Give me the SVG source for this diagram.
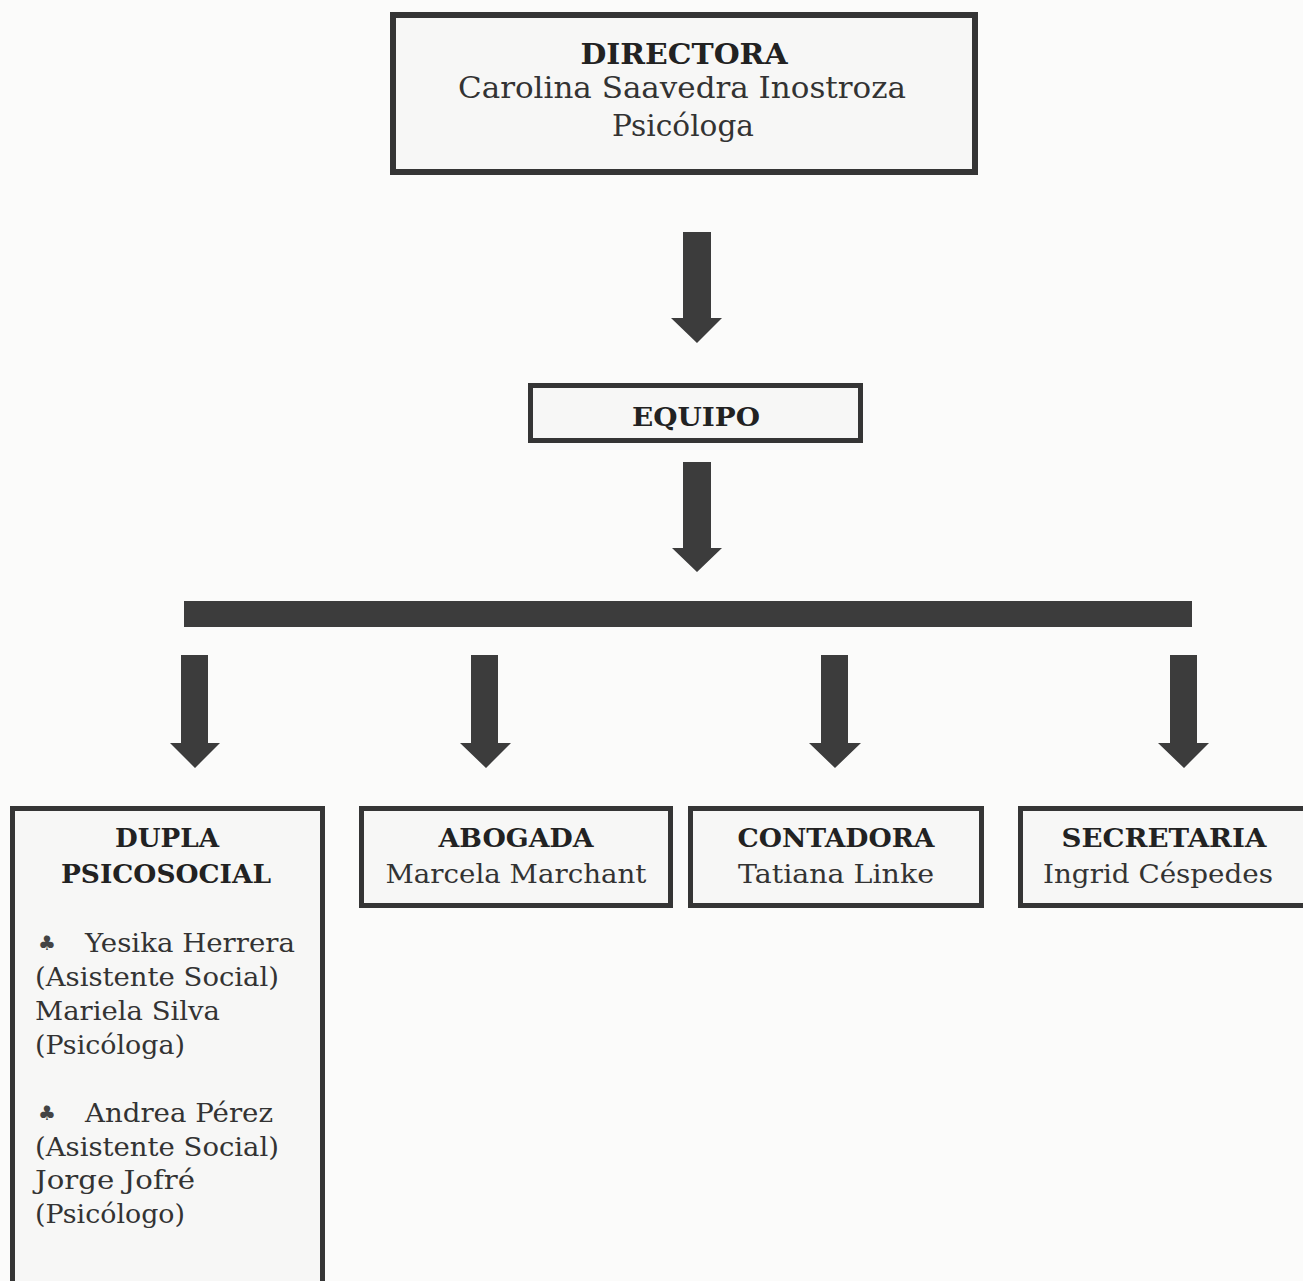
<svg xmlns="http://www.w3.org/2000/svg" width="1303" height="1281" viewBox="0 0 1303 1281">
<style>
.box{fill:#f7f7f6;stroke:#353535;stroke-width:5}
.arr{fill:#3c3c3c}
.h{font-family:"DejaVu Serif","Liberation Serif",serif;font-weight:bold;font-size:26px;fill:#222;text-anchor:middle}
.t{font-family:"DejaVu Serif","Liberation Serif",serif;font-size:26px;fill:#333;text-anchor:middle}
.l{font-family:"DejaVu Serif","Liberation Serif",serif;font-size:26px;fill:#333}
.c{font-family:"DejaVu Sans",sans-serif;font-size:20px;fill:#444}
</style>
<rect width="1303" height="1281" fill="#fbfbfa"/>
<g id="connectors">
<polygon class="arr" points="683,232 711,232 711,318 722,318 697,343 671,318 683,318"/>
<polygon class="arr" points="683,462 711,462 711,548 722,548 697,572 672,548 683,548"/>
<rect class="arr" x="184" y="601" width="1008" height="26"/>
<polygon class="arr" points="181,655 208,655 208,743 220,743 195,768 170,743 181,743"/>
<polygon class="arr" points="471,655 498,655 498,743 511,743 486,768 460,743 471,743"/>
<polygon class="arr" points="821,655 848,655 848,743 861,743 835,768 809,743 821,743"/>
<polygon class="arr" points="1170,655 1197,655 1197,743 1209,743 1184,768 1158,743 1170,743"/>
</g>
<g id="directora">
<rect class="box" x="393" y="15" width="582" height="157" style="stroke-width:6"/>
<text class="h" x="684" y="64" style="font-size:28px" textLength="207" lengthAdjust="spacingAndGlyphs">DIRECTORA</text>
<text class="t" x="682" y="98" style="font-size:29px" textLength="448" lengthAdjust="spacingAndGlyphs">Carolina Saavedra Inostroza</text>
<text class="t" x="683" y="136" style="font-size:29px" textLength="142" lengthAdjust="spacingAndGlyphs">Psicóloga</text>
</g>
<g id="equipo">
<rect class="box" x="530.5" y="385.5" width="330" height="55"/>
<text class="h" x="696" y="426" textLength="128" lengthAdjust="spacingAndGlyphs">EQUIPO</text>
</g>
<g id="dupla">
<rect class="box" x="12.5" y="808.5" width="310" height="500"/>
<text class="h" x="167" y="847" textLength="104" lengthAdjust="spacingAndGlyphs">DUPLA</text>
<text class="h" x="166" y="883" textLength="210" lengthAdjust="spacingAndGlyphs">PSICOSOCIAL</text>
<text class="c" x="38" y="950">♣</text>
<text class="l" x="85" y="952" textLength="210" lengthAdjust="spacingAndGlyphs">Yesika Herrera</text>
<text class="l" x="35" y="986" textLength="244" lengthAdjust="spacingAndGlyphs">(Asistente Social)</text>
<text class="l" x="35" y="1020" textLength="185" lengthAdjust="spacingAndGlyphs">Mariela Silva</text>
<text class="l" x="35" y="1054" textLength="150" lengthAdjust="spacingAndGlyphs">(Psicóloga)</text>
<text class="c" x="38" y="1120">♣</text>
<text class="l" x="85" y="1122" textLength="188" lengthAdjust="spacingAndGlyphs">Andrea Pérez</text>
<text class="l" x="35" y="1156" textLength="244" lengthAdjust="spacingAndGlyphs">(Asistente Social)</text>
<text class="l" x="35" y="1189" textLength="160" lengthAdjust="spacingAndGlyphs">Jorge Jofré</text>
<text class="l" x="35" y="1223" textLength="150" lengthAdjust="spacingAndGlyphs">(Psicólogo)</text>
</g>
<g id="abogada">
<rect class="box" x="361.5" y="808.5" width="309" height="97"/>
<text class="h" x="516" y="847" textLength="155" lengthAdjust="spacingAndGlyphs">ABOGADA</text>
<text class="t" x="516" y="883" textLength="261" lengthAdjust="spacingAndGlyphs">Marcela Marchant</text>
</g>
<g id="contadora">
<rect class="box" x="690.5" y="808.5" width="291" height="97"/>
<text class="h" x="836" y="847" textLength="197" lengthAdjust="spacingAndGlyphs">CONTADORA</text>
<text class="t" x="836" y="883" textLength="196" lengthAdjust="spacingAndGlyphs">Tatiana Linke</text>
</g>
<g id="secretaria">
<rect class="box" x="1020.5" y="808.5" width="300" height="97"/>
<text class="h" x="1164" y="847" textLength="205" lengthAdjust="spacingAndGlyphs">SECRETARIA</text>
<text class="t" x="1158" y="883" textLength="230" lengthAdjust="spacingAndGlyphs">Ingrid Céspedes</text>
</g>
</svg>
